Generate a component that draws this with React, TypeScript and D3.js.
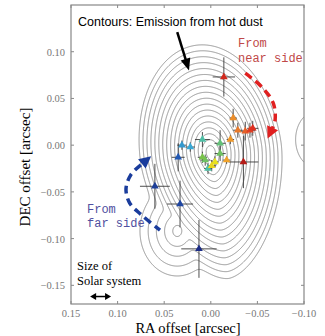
import React, { useMemo } from 'react';
import * as d3 from 'd3';

// ---- data ----
// dust emission model: a few cone-like lobes (centre, half extents, peak)
const LOBE_RA = [0.0, 0.036, -0.113];
const LOBE_DEC = [-0.008, -0.092, 0.006];
const LOBE_AX = [0.076, 0.040, 0.022];
const LOBE_AY_TOP = [0.116, 0.050, 0.030];
const LOBE_AY_BOT = [0.136, 0.048, 0.030];
const LOBE_PEAK = [1.0, 0.25, 0.07];
const LOBE_TILT = [8, 0, 0]; // degrees
const LOBE_P_BOT = [1.7, 2, 2]; // shape exponent of the lower half
const CONTOUR_LEVELS = [0.0, 0.055, 0.11, 0.165, 0.22, 0.275, 0.33, 0.385, 0.44, 0.495, 0.55, 0.605, 0.66, 0.715, 0.77, 0.825, 0.88, 0.935];

// maser / line positions with errors, coloured by velocity
const PT_RA = [0.0127, 0.060, 0.033, 0.035, 0.031, 0.022, 0.009, 0.003, 0.006, 0.009, -0.010, -0.010, -0.0045, -0.001, -0.017, -0.021, -0.024, -0.029, -0.037, -0.042, -0.045, -0.035, -0.014];
const PT_DEC = [-0.111, -0.044, -0.063, -0.013, 0.0, -0.002, 0.006, -0.025, -0.016, -0.013, 0.002, -0.009, -0.018, -0.022, -0.016, 0.006, 0.029, 0.016, 0.015, 0.016, 0.018, -0.018, 0.073];
const PT_ERA = [0.019, 0.016, 0.014, 0.007, 0.005, 0.005, 0.008, 0.004, 0.005, 0.005, 0.006, 0.006, 0.004, 0.004, 0.004, 0.004, 0.004, 0.005, 0.006, 0.006, 0.006, 0.016, 0.012];
const PT_EDEC = [0.031, 0.024, 0.025, 0.015, 0.005, 0.005, 0.008, 0.006, 0.006, 0.006, 0.014, 0.008, 0.006, 0.006, 0.004, 0.005, 0.010, 0.008, 0.010, 0.008, 0.008, 0.028, 0.021];
const PT_VEL = [-1.0, -0.9, -0.85, -0.75, -0.55, -0.5, -0.3, -0.3, -0.15, -0.1, -0.2, -0.15, 0.05, 0.1, 0.35, 0.4, 0.45, 0.55, 0.65, 0.75, 0.8, 0.95, 0.85];
const VEL_STOPS = [-1, -0.75, -0.5, -0.3, -0.1, 0.05, 0.35, 0.6, 0.8, 1];
const VEL_COLORS = ['#1b2c86', '#2158b4', '#38a8d4', '#4fbfa6', '#79c24c', '#e8e21e', '#f0a22a', '#e8702a', '#e03020', '#a81414'];

const X_TICKS = [0.15, 0.1, 0.05, 0.0, -0.05, -0.1];
const Y_TICKS = [0.1, 0.05, 0.0, -0.05, -0.1, -0.15];

// annotation paths in data coords
const RED_ARC = [[-0.037, 0.077], [-0.055, 0.062], [-0.067, 0.045], [-0.069, 0.027], [-0.066, 0.018]];
const RED_TIP = [-0.061, 0.007];
const BLUE_ARC = [[0.0545, -0.091], [0.074, -0.075], [0.087, -0.062], [0.091, -0.047], [0.086, -0.032], [0.075, -0.021]];
const BLUE_TIP = [0.064, -0.012];
const BLACK_ARROW = [[0.036, 0.121], [0.0234, 0.080]];
const SOLAR = [[0.1295, -0.162], [0.107, -0.162]];

const W = 325;
const H = 336;
const fmt = (v: number) => (v < 0 ? '\u2212' : '') + Math.abs(v).toFixed(2);

function arrowHead(from: number[], tip: number[], len: number, half: number) {
  const dx = tip[0] - from[0];
  const dy = tip[1] - from[1];
  const n = Math.hypot(dx, dy);
  const ux = dx / n, uy = dy / n;
  const bx = tip[0] - ux * len, by = tip[1] - uy * len;
  return `M${tip[0]},${tip[1]}L${bx - uy * half},${by + ux * half}L${bx + uy * half},${by - ux * half}Z`;
}

export default function App() {
  const x = d3.scaleLinear().domain([0.15, -0.1]).range([71, 304]);
  const y = d3.scaleLinear().domain([0.15, -0.17]).range([5, 304]);
  const color = d3.scaleLinear<string>().domain(VEL_STOPS).range(VEL_COLORS);

  const contours = useMemo(() => {
    const x0 = 69, y0 = 3;
    const nx = 238, ny = 304;
    const vals = new Float64Array(nx * ny);
    const k = 0.02;
    for (let j = 0; j < ny; j++) {
      for (let i = 0; i < nx; i++) {
        const ra = x.invert(x0 + i + 0.5);
        const dec = y.invert(y0 + j + 0.5);
        let s = 0;
        for (let c = 0; c < LOBE_RA.length; c++) {
          const t = (LOBE_TILT[c] * Math.PI) / 180;
          const dx = ra - LOBE_RA[c];
          const dy = dec - LOBE_DEC[c];
          const u = dx * Math.cos(t) - dy * Math.sin(t);
          const v = dx * Math.sin(t) + dy * Math.cos(t);
          const ay = v > 0 ? LOBE_AY_TOP[c] : LOBE_AY_BOT[c];
          const p = v > 0 ? 2 : LOBE_P_BOT[c];
          const d = Math.pow(Math.abs(u / LOBE_AX[c]) ** p + Math.abs(v / ay) ** p, 1 / p);
          s += Math.exp((LOBE_PEAK[c] * (1 - d)) / k);
        }
        vals[j * nx + i] = k * Math.log(s);
      }
    }
    const gen = d3.contours().size([nx, ny]).thresholds(CONTOUR_LEVELS);
    const path = d3.geoPath();
    return { x0, y0, paths: gen(Array.from(vals)).map((c) => path(c) || '') };
  }, []);

  const line = d3.line<number[]>().x((d) => x(d[0])).y((d) => y(d[1])).curve(d3.curveCatmullRom);
  const tri = d3.symbol().type(d3.symbolTriangle).size(26)();
  const px = (p: number[]) => [x(p[0]), y(p[1])];

  const redLast = px(RED_ARC[RED_ARC.length - 1]);
  const blueLast = px(BLUE_ARC[BLUE_ARC.length - 1]);
  const bA = px(BLACK_ARROW[0]);
  const bB = px(BLACK_ARROW[1]);
  const s0 = px(SOLAR[0]);
  const s1 = px(SOLAR[1]);

  return (
    <svg width={W} height={H} style={{ position: 'absolute', left: 0, top: 0, background: '#fff' }}>
      <defs>
        <clipPath id="plot">
          <rect x={71} y={5} width={233} height={299} />
        </clipPath>
      </defs>
      <g clipPath="url(#plot)">
        <g transform={`translate(${contours.x0},${contours.y0})`} fill="none" stroke="#8a8a8a" strokeWidth={0.9}>
          {contours.paths.map((d, i) => (
            <path key={i} d={d} />
          ))}
        </g>
      </g>

      {/* error bars and points */}
      <g stroke="#3a3a3a" strokeWidth={0.9}>
        {PT_RA.map((ra, i) => (
          <g key={i}>
            <line x1={x(ra + PT_ERA[i])} x2={x(ra - PT_ERA[i])} y1={y(PT_DEC[i])} y2={y(PT_DEC[i])} />
            <line x1={x(ra)} x2={x(ra)} y1={y(PT_DEC[i] + PT_EDEC[i])} y2={y(PT_DEC[i] - PT_EDEC[i])} />
          </g>
        ))}
      </g>
      <g>
        {PT_RA.map((ra, i) => (
          <path key={i} d={tri} transform={`translate(${x(ra)},${y(PT_DEC[i])})`} fill={color(PT_VEL[i])} />
        ))}
      </g>

      {/* frame and ticks */}
      <rect x={71} y={5} width={233} height={299} fill="none" stroke="#888" strokeWidth={1.2} />
      <g stroke="#888" strokeWidth={1}>
        {X_TICKS.map((t) => (
          <g key={t}>
            <line x1={x(t)} x2={x(t)} y1={304} y2={301} />
            <line x1={x(t)} x2={x(t)} y1={5} y2={8} />
          </g>
        ))}
        {Y_TICKS.map((t) => (
          <g key={t}>
            <line x1={71} x2={74} y1={y(t)} y2={y(t)} />
            <line x1={304} x2={301} y1={y(t)} y2={y(t)} />
          </g>
        ))}
      </g>
      <g fontFamily="'Liberation Serif', serif" fontSize={10.5} fill="#777">
        {X_TICKS.map((t) => (
          <text key={t} x={x(t)} y={317} textAnchor="middle">
            {fmt(t)}
          </text>
        ))}
        {Y_TICKS.map((t) => (
          <text key={t} x={65} y={y(t) + 4} textAnchor="end">
            {fmt(t)}
          </text>
        ))}
      </g>
      <text x={188} y={333} textAnchor="middle" fontFamily="'Liberation Serif', serif" fontSize={14.5}>
        RA offset [arcsec]
      </text>
      <text transform={`translate(30,167) rotate(-90)`} textAnchor="middle" fontFamily="'Liberation Serif', serif" fontSize={15}>
        DEC offset [arcsec]
      </text>

      {/* annotations */}
      <text x={78} y={26} fontFamily="'Liberation Sans', sans-serif" fontSize={12.5}>
        Contours: Emission from hot dust
      </text>
      <line x1={bA[0]} y1={bA[1]} x2={bB[0] - 1.5} y2={bB[1] - 5} stroke="#000" strokeWidth={2.5} />
      <path d={arrowHead(bA, bB, 12, 5)} fill="#000" />

      <g fontFamily="'Liberation Mono', monospace" fontSize={12} fill="#c04848">
        <text x={238} y={47}>From</text>
        <text x={238} y={62}>near side</text>
      </g>
      <path d={line(RED_ARC) || ''} fill="none" stroke="#e02020" strokeWidth={3.5} strokeDasharray="8 5" />
      <path d={arrowHead(redLast, px(RED_TIP), 12, 6)} fill="#e02020" />

      <g fontFamily="'Liberation Mono', monospace" fontSize={12} fill="#5050a0">
        <text x={87} y={213}>From</text>
        <text x={87} y={227}>far side</text>
      </g>
      <path d={line(BLUE_ARC.slice().reverse()) || ''} fill="none" stroke="#1a3c9c" strokeWidth={3.5} strokeDasharray="8 5" />
      <path d={arrowHead(blueLast, px(BLUE_TIP), 12, 6)} fill="#1a3c9c" />

      <g fontFamily="'Liberation Serif', serif" fontSize={12.5}>
        <text x={77} y={270}>Size of</text>
        <text x={77} y={285}>Solar system</text>
      </g>
      <line x1={s0[0] + 5} y1={s0[1]} x2={s1[0] - 5} y2={s1[1]} stroke="#000" strokeWidth={1.5} />
      <path d={arrowHead(s1, s0, 6, 3.5)} fill="#000" />
      <path d={arrowHead(s0, s1, 6, 3.5)} fill="#000" />
    </svg>
  );
}
